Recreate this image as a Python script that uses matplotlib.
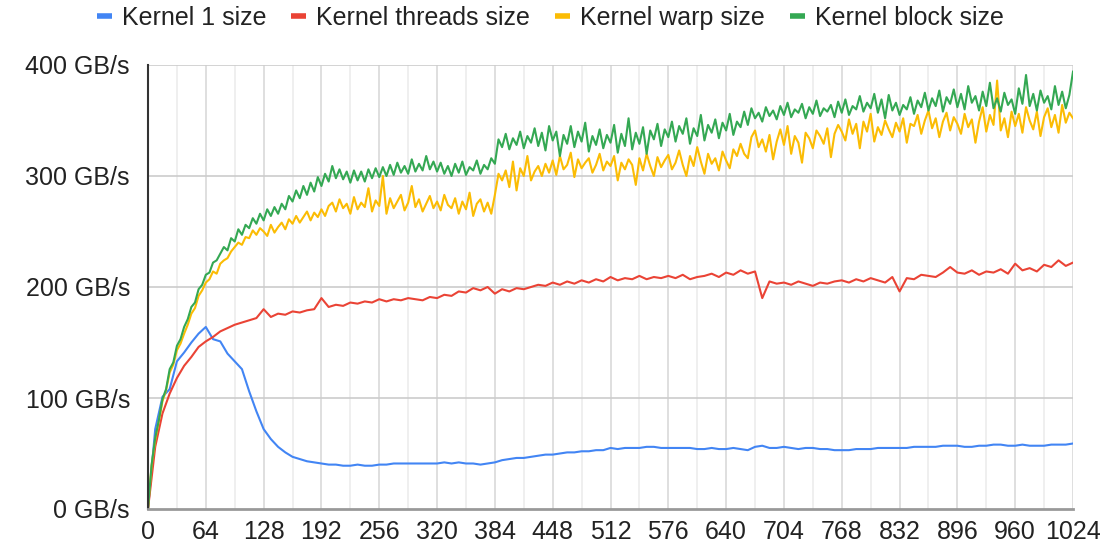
import numpy as np
import matplotlib
matplotlib.use("Agg")
import matplotlib.pyplot as plt
from matplotlib.lines import Line2D

# ---------------- data ----------------
x_coarse = list(range(0, 1025, 8))   # 129 points
x_fine = list(range(0, 1025, 4))     # 257 points

kernel_1_size = [
    0, 72, 101, 108, 133, 141, 150, 158,
    164, 153, 151, 140, 133, 126, 106, 88,
    72, 63, 56, 51, 47, 45, 43, 42,
    41, 40, 40, 39, 39, 40, 39, 39,
    40, 40, 41, 41, 41, 41, 41, 41,
    41, 42, 41, 42, 41, 41, 40, 41,
    42, 44, 45, 46, 46, 47, 48, 49,
    49, 50, 51, 51, 52, 52, 53, 53,
    55, 54, 55, 55, 55, 56, 56, 55,
    55, 55, 55, 55, 54, 54, 55, 54,
    54, 55, 54, 53, 56, 57, 55, 55,
    56, 55, 54, 55, 55, 54, 54, 53,
    53, 53, 54, 54, 54, 55, 55, 55,
    55, 55, 56, 56, 56, 56, 57, 57,
    57, 56, 56, 57, 57, 58, 58, 57,
    57, 58, 57, 57, 57, 58, 58, 58,
    59,
]

kernel_threads_size = [
    0, 56, 86, 104, 118, 129, 137, 146,
    151, 155, 160, 163, 166, 168, 170, 172,
    180, 173, 176, 175, 178, 177, 179, 180,
    190, 182, 184, 183, 186, 185, 187, 186,
    189, 187, 189, 188, 190, 189, 188, 191,
    190, 193, 192, 196, 195, 199, 197, 200,
    194, 198, 196, 199, 198, 200, 202, 201,
    204, 202, 205, 203, 206, 204, 207, 205,
    209, 206, 208, 207, 210, 207, 209, 208,
    210, 208, 211, 207, 209, 210, 212, 209,
    213, 211, 215, 212, 214, 190, 205, 203,
    204, 202, 205, 203, 201, 204, 203, 205,
    206, 204, 207, 205, 208, 206, 204, 209,
    196, 208, 207, 211, 210, 209, 213, 218,
    213, 212, 215, 211, 214, 213, 216, 212,
    221, 215, 217, 214, 220, 218, 224, 219,
    222,
]

kernel_warp_size = [
    0, 39, 62, 79, 97, 107, 123, 130, 143, 149, 158, 166, 176, 181, 192, 197,
    204, 207, 214, 212, 221, 224, 226, 232, 236, 240, 238, 245, 244, 251, 247, 253,
    250, 246, 256, 249, 254, 258, 252, 261, 257, 264, 258, 263, 268, 260, 267, 263,
    270, 264, 273, 276, 268, 279, 271, 275, 266, 281, 270, 276, 272, 289, 268, 278,
    273, 300, 266, 280, 271, 277, 283, 269, 276, 291, 272, 279, 268, 275, 282, 271,
    277, 269, 283, 274, 271, 280, 266, 277, 270, 285, 264, 275, 279, 268, 276, 266,
    283, 302, 296, 305, 290, 313, 287, 307, 300, 318, 296, 304, 309, 300, 311, 303,
    314, 301, 318, 306, 310, 321, 299, 315, 307, 312, 316, 303, 310, 320, 305, 313,
    309, 318, 296, 312, 306, 315, 310, 292, 316, 305, 320, 309, 300, 317, 308, 314,
    319, 306, 312, 323, 310, 300, 318, 309, 326, 313, 302, 320, 311, 316, 305, 322,
    314, 307, 324, 318, 329, 320, 316, 335, 341, 326, 333, 322, 337, 315, 331, 342,
    328, 345, 320, 336, 330, 312, 339, 334, 325, 341, 336, 329, 343, 317, 338, 346,
    340, 332, 351, 338, 347, 325, 349, 340, 356, 331, 344, 337, 350, 342, 335, 348,
    340, 352, 330, 347, 345, 355, 338, 350, 359, 343, 352, 335, 349, 357, 341, 353,
    347, 338, 356, 344, 351, 330, 349, 362, 340, 355, 346, 386, 341, 352, 335, 358,
    345, 356, 339, 362, 350, 342, 358, 336, 353, 361, 344, 355, 339, 364, 348, 357,
    352,
]

kernel_block_size = [
    0, 40, 64, 80, 99, 108, 126, 132, 147, 153, 164, 171, 182, 186, 198, 202,
    211, 213, 222, 224, 230, 236, 233, 244, 241, 252, 247, 256, 253, 262, 257, 266,
    260, 270, 264, 272, 266, 275, 270, 282, 277, 287, 280, 291, 283, 294, 286, 299,
    291, 302, 295, 309, 298, 306, 297, 304, 294, 305, 296, 304, 295, 306, 298, 307,
    299, 308, 300, 310, 301, 312, 303, 309, 302, 315, 304, 311, 305, 318, 306, 313,
    304, 312, 302, 309, 300, 311, 303, 313, 301, 308, 305, 314, 302, 310, 306, 316,
    311, 333, 326, 338, 324, 334, 328, 340, 325, 336, 330, 343, 327, 339, 323, 345,
    332, 340, 318, 337, 329, 345, 326, 340, 331, 348, 322, 336, 328, 342, 325, 337,
    330, 346, 321, 338, 327, 352, 324, 339, 329, 344, 320, 341, 333, 347, 327, 342,
    335, 349, 331, 345, 338, 352, 329, 343, 336, 355, 332, 346, 339, 351, 334, 348,
    341, 356, 337, 349, 344, 358, 346, 361, 352, 357, 349, 362, 354, 359, 351, 363,
    355, 366, 353, 360, 357, 365, 352, 362, 356, 368, 354, 361, 358, 364, 353, 367,
    357, 369, 355, 363, 360, 372, 358, 366, 361, 374, 357, 369, 352, 373, 359, 366,
    355, 364, 360, 371, 356, 368, 362, 375, 359, 370, 363, 377, 358, 371, 365, 378,
    362, 374, 360, 381, 366, 372, 359, 376, 363, 384, 361, 370, 358, 375, 364, 369,
    356, 379, 365, 391, 363, 374, 359, 377, 366, 372, 360, 381, 364, 376, 361, 373,
    394,
]

series_names = ["Kernel 1 size", "Kernel threads size", "Kernel warp size", "Kernel block size"]
series_colors = ["#4285F4", "#EA4335", "#FBBC04", "#34A853"]
x_ticks = [0, 64, 128, 192, 256, 320, 384, 448, 512, 576, 640, 704, 768, 832, 896, 960, 1024]
y_ticks = [0, 100, 200, 300, 400]
y_tick_labels = ["0 GB/s", "100 GB/s", "200 GB/s", "300 GB/s", "400 GB/s"]

# ---------------- plot ----------------
plt.rcParams["font.family"] = ["Liberation Sans", "DejaVu Sans"]
W, H = 1103, 550
fig = plt.figure(figsize=(W / 100, H / 100), dpi=100)
ax = fig.add_axes([148 / W, (H - 509) / H, (1073 - 148) / W, (509 - 65) / H])

data = [
    (x_coarse, kernel_1_size),
    (x_coarse, kernel_threads_size),
    (x_fine, kernel_warp_size),
    (x_fine, kernel_block_size),
]
for (xs, ys), name, col in zip(data, series_names, series_colors):
    ax.plot(xs, ys, color=col, lw=1.5, label=name, solid_joinstyle="round")

ax.set_xlim(0, 1024)
ax.set_ylim(0, 400)

# grid
for v in range(32, 1025, 32):
    c = "#d9d9d9" if v % 64 == 0 else "#ececec"
    ax.axvline(v, color=c, lw=1.2, zorder=0)
for v in y_ticks[1:]:
    ax.axhline(v, color="#cccccc", lw=1.2, zorder=0)

ax.set_xticks(x_ticks)
ax.set_xticklabels([str(t) for t in x_ticks])
ax.set_yticks(y_ticks)
ax.set_yticklabels(y_tick_labels)
ax.tick_params(axis="both", length=0, labelsize=18, colors="#222222")
ax.tick_params(axis="x", pad=8)
ax.tick_params(axis="y", pad=13)

for s in ["top", "right"]:
    ax.spines[s].set_visible(False)
ax.spines["left"].set_color("#333333")
ax.spines["left"].set_linewidth(1.5)
ax.spines["bottom"].set_color("#999999")
ax.spines["bottom"].set_linewidth(2)

handles = [Line2D([0], [0], color=c, lw=4, solid_capstyle="butt") for c in series_colors]
fig.legend(handles, series_names, loc="center", bbox_to_anchor=(550 / W, 1 - 18 / H),
           ncol=4, frameon=False, fontsize=18, handlelength=0.6, handletextpad=0.4,
           columnspacing=1.0, labelcolor="#222222")

fig.savefig("out.png", dpi=100)
